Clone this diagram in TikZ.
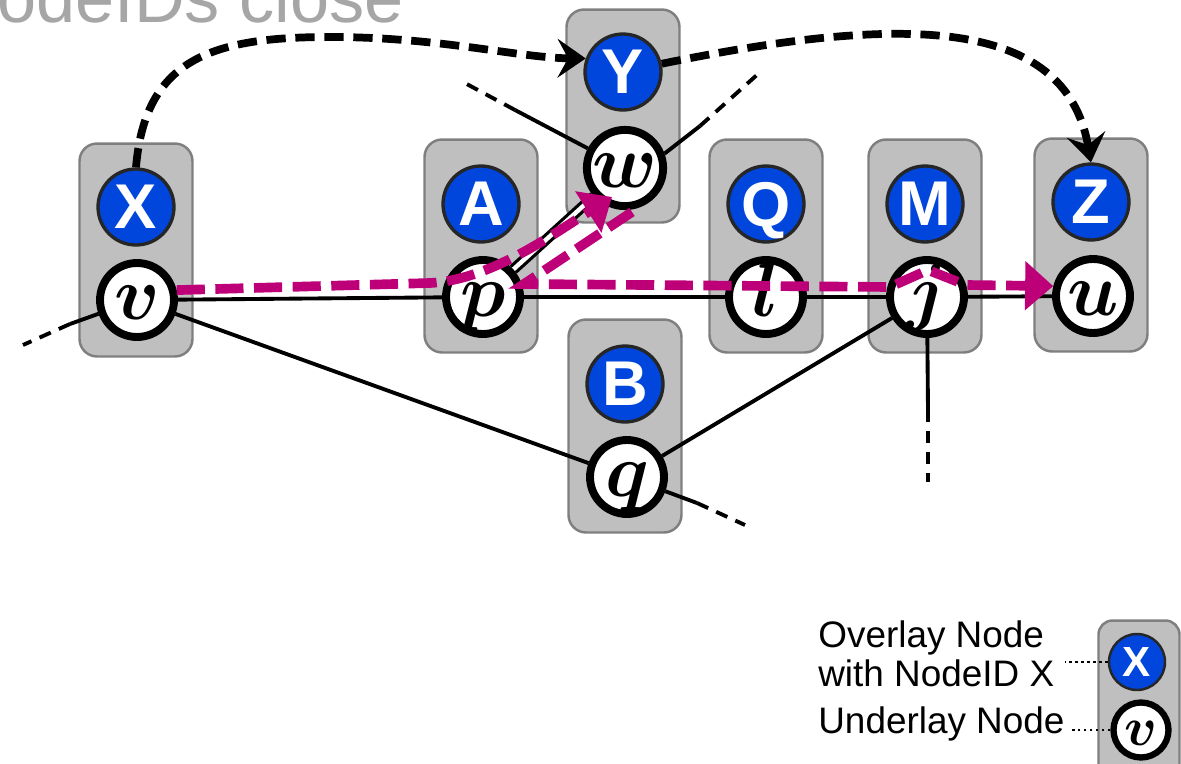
\documentclass[tikz,border=0pt]{standalone}
\usepackage{fix-cm}
\usepackage{bm}
\usepackage{fontspec}
\setsansfont{Liberation Sans}
\usetikzlibrary{arrows.meta}

\definecolor{boxgray}{RGB}{191,191,191}
\definecolor{boxedge}{RGB}{127,127,127}
\definecolor{idblue}{RGB}{0,70,220}
\definecolor{pathpink}{RGB}{190,0,120}
\definecolor{titlegray}{RGB}{166,166,166}

\pgfdeclarelayer{boxes}
\pgfdeclarelayer{links}
\pgfsetlayers{boxes,links,main}

\tikzset{
	peerbox/.style={draw=boxedge, line width=1.4pt, fill=boxgray, rounded corners=10pt, minimum width=2.26cm, minimum height=4.26cm},
	ovnode/.style={circle, draw=black!85, line width=1.9pt, fill=idblue, text=white, minimum size=1.52cm, inner sep=0pt, text depth=0pt, font=\sffamily\bfseries\fontsize{36}{36}\selectfont},
	unnode/.style={circle, draw=black, line width=4.5pt, fill=white, minimum size=1.48cm, inner sep=0pt, text height=0.8cm, text depth=0pt, font=\fontsize{43}{43}\selectfont},
	link/.style={line width=2.2pt},
	stub/.style={line width=2.2pt, dash pattern=on 7pt off 5pt},
	lookup/.style={line width=4.4pt, dash pattern=on 11pt off 5.5pt, -{Stealth[length=16pt, width=22pt, inset=6pt]}},
	route/.style={draw=pathpink, line width=5.5pt, dash pattern=on 16pt off 6pt, -{Triangle[length=16pt, width=27pt]}},
	legtext/.style={anchor=base west, inner sep=0pt, font=\sffamily\fontsize{21}{21}\selectfont},
	legline/.style={line width=1.4pt, dotted},
}

\begin{document}
\begin{tikzpicture}[x=0.02cm, y=-0.02cm]
	\useasboundingbox (0,0) rectangle (1181,764);

	\node[anchor=base east, inner sep=0pt, text=titlegray, font=\sffamily\fontsize{40}{40}\selectfont] (title) at (404,23) {NodeIDs close};

	% overlay ids
	\node[ovnode] (X) at (136,207) {X};
	\node[ovnode] (A) at (481,204) {A};
	\node[ovnode] (Y) at (623,72) {Y};
	\node[ovnode] (Q) at (766,204) {Q};
	\node[ovnode] (M) at (925,204) {M};
	\node[ovnode] (Z) at (1091,202) {Z};
	\node[ovnode] (B) at (625,384) {B};

	% underlay nodes
	\node[unnode] (v) at (137,300) {$\bm{v}$};
	\node[unnode] (p) at (483,297) {$\bm{p}$};
	\node[unnode] (w) at (625,168) {$\bm{w}$};
	\node[unnode] (l) at (766,297) {$\bm{l}$};
	\node[unnode] (j) at (927,297) {$\bm{j}$};
	\node[unnode] (u) at (1093,296) {$\bm{u}$};
	\node[unnode] (q) at (627,477) {$\bm{q}$};

	\begin{pgfonlayer}{boxes}
		\node[peerbox] (gX) at (136,250) {};
		\node[peerbox] (gA) at (481,246) {};
		\node[peerbox] (gY) at (623,116) {};
		\node[peerbox] (gQ) at (766,246) {};
		\node[peerbox] (gM) at (925,246) {};
		\node[peerbox] (gZ) at (1091,245) {};
		\node[peerbox] (gB) at (625,426) {};
	\end{pgfonlayer}

	% loose ends
	\coordinate (vs1) at (70,324);
	\coordinate (vs2) at (23,345);
	\coordinate (wl1) at (515,110);
	\coordinate (wl2) at (463,82);
	\coordinate (wr1) at (700,126);
	\coordinate (wr2) at (758,74);
	\coordinate (qs1) at (697,503);
	\coordinate (qs2) at (745,525);
	\coordinate (js1) at (928,410);
	\coordinate (js2) at (928,482);

	\begin{pgfonlayer}{links}
		\draw[link] (v) -- (p) -- (l) -- (j) -- (u);
		\draw[link] (v) -- (q) -- (j);
		\draw[link, line width=1.8pt, double, double distance=2.5pt] (p) -- (w);

		\draw[link] (v) -- (vs1);
		\draw[stub] (vs1) -- (vs2);
		\draw[link] (w) -- (wl1);
		\draw[stub] (wl1) -- (wl2);
		\draw[link] (w.20) -- (wr1);
		\draw[stub] (wr1) -- (wr2);
		\draw[link] (q) -- (qs1);
		\draw[stub] (qs1) -- (qs2);
		\draw[link] (j) -- (js1);
		\draw[stub] (js1) -- (js2);
	\end{pgfonlayer}

	% id lookups
	\draw[lookup] (X.north) .. controls (145,60) and (210,37) .. (330,37) .. controls (440,37) and (520,58) .. (Y.160);
	\draw[lookup] (Y.12) .. controls (900,15) and (1065,15) .. (Z.north);

	% routes
	\coordinate (r1a) at (430,283);
	\coordinate (r1e) at (612,197);
	\draw[route] (v.14) -- (r1a) .. controls (490,280) and (552,235) .. (r1e);

	\coordinate (r2s) at (632,212);
	\coordinate (r2a) at (524,284);
	\coordinate (r2b) at (890,287);
	\coordinate (r2c) at (928,270);
	\coordinate (r2d) at (966,285);
	\draw[route] (r2s) -- (r2a) -- (r2b) -- (r2c) -- (r2d) -- (u.166);

	% legend
	\begin{pgfonlayer}{boxes}
		\node[peerbox, minimum width=1.62cm, minimum height=3.3cm, rounded corners=8pt] (gL) at (1139,703) {};
	\end{pgfonlayer}
	\node[ovnode, minimum size=1.12cm, line width=1.4pt, font=\sffamily\bfseries\fontsize{24}{24}\selectfont] (lX) at (1137,662) {X};
	\node[unnode, minimum size=1.1cm, line width=3.6pt, text height=0.6cm, font=\fontsize{31}{31}\selectfont] (lv) at (1141,730) {$\bm{v}$};

	\node[legtext] (ovtxt1) at (818,647) {Overlay Node};
	\node[legtext] (ovtxt2) at (818,686) {with NodeID X};
	\node[legtext] (untxt) at (818,733) {Underlay Node};
	\draw[legline, shorten >=6pt] (lX.west) -- (ovtxt2.east |- lX);
	\draw[legline, shorten >=3pt] (lv.west) -- (untxt.east |- lv);
\end{tikzpicture}
\end{document}
